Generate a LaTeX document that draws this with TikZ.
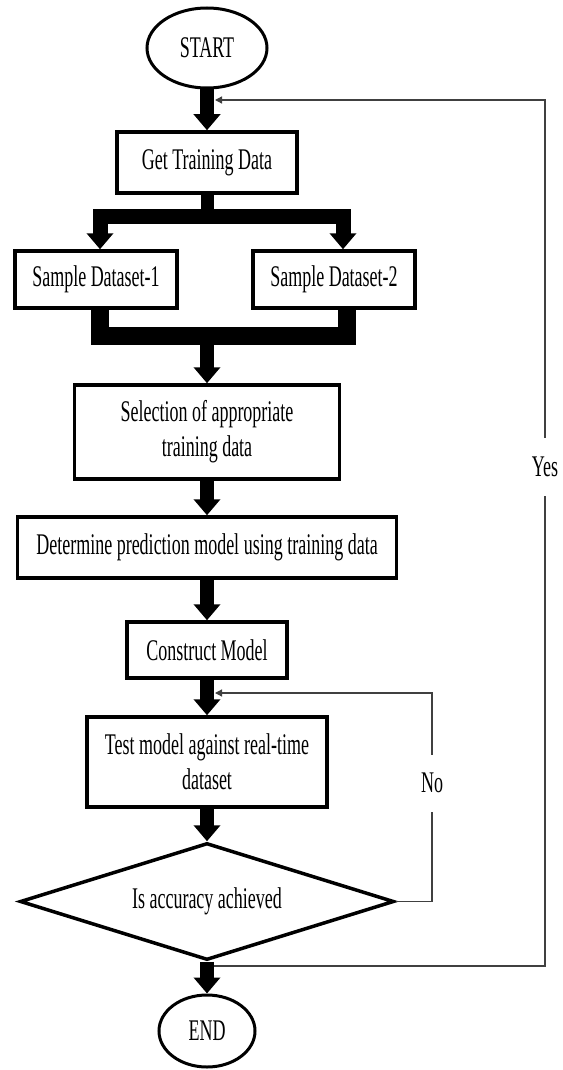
\documentclass[tikz,border=0pt]{standalone}
\usepackage{fontspec}
\setmainfont{Liberation Serif}[FakeStretch=0.6]
\usetikzlibrary{shapes.geometric,arrows.meta}
\tikzset{
  txt/.style={font=\fontsize{30}{35}\selectfont},
  box/.style={txt, draw, rectangle, line width=3.5pt, inner sep=0pt, align=center},
  term/.style={txt, draw, ellipse, line width=3pt, inner sep=0pt},
  decision/.style={txt, draw, diamond, aspect=3.2, line width=3.5pt, inner sep=0pt},
  bigtip/.tip={Triangle[length=16pt,width=26pt]},
  flow/.style={line width=14pt, -bigtip},
  bus/.style={line width=15pt, line join=miter},
  thinflow/.style={line width=1.3pt, black!75, -{Triangle[length=7pt,width=7pt]}},
  lab/.style={txt, fill=white, inner xsep=2pt, inner ysep=0pt}
}
\begin{document}
\begin{tikzpicture}[x=1pt,y=-1pt]
\useasboundingbox (0,0) rectangle (562,1070);

% nodes
\node[term, minimum width=120, minimum height=80] (start) at (207,48) {START};
\node[box, minimum width=180, minimum height=61] (gtd) at (207,162.5) {Get Training Data};
\node[box, minimum width=162, minimum height=57] (sd1) at (96,279.5) {Sample Dataset-1};
\node[box, minimum width=162, minimum height=57] (sd2) at (334,279.5) {Sample Dataset-2};
\node[box, minimum width=265, minimum height=94] (sel) at (207,432) {Selection of appropriate\\training data};
\node[box, minimum width=379, minimum height=61] (det) at (207,547.5) {Determine prediction model using training data};
\node[box, minimum width=160, minimum height=56] (con) at (207,650) {Construct Model};
\node[box, minimum width=240, minimum height=90] (test) at (207,762) {Test model against real-time\\dataset};
\node[decision, minimum width=374, minimum height=117] (dec) at (207,901.5) {Is accuracy achieved};
\node[term, minimum width=96, minimum height=72] (end) at (207,1031) {END};

% helper coordinates
\coordinate (bl) at (100,216.5);
\coordinate (br) at (343,216.5);
\coordinate (ml) at (99.5,336);
\coordinate (mr) at (346.5,336);
\coordinate (ys) at (214,966);
\coordinate (yc) at (545,966);
\coordinate (yin) at (215,100);
\coordinate (nc) at (432,693);
\coordinate (nin) at (215,693);

% thin feedback lines
\draw[thinflow] (ys) -- (yc) -- (yc |- yin) -- (yin);
\draw[thinflow] (dec.east) -| (nc) -- (nin);

% thick connectors
\draw[flow] (start.south) -- (gtd.north);
\draw[line width=13pt] (gtd.south) -- (gtd.south |- bl);
\draw[bus, bigtip-bigtip] (bl |- sd1.north) -- (bl) -- (br) -- (br |- sd2.north);
\draw[line width=18pt, line join=miter] (ml |- sd1.south) -- (ml) -- (mr) -- (mr |- sd2.south);
\draw[flow] (sel.north |- ml) -- (sel.north);
\draw[flow] (sel.south) -- (det.north);
\draw[flow] (det.south) -- (con.north);
\draw[flow] (con.south) -- (test.north);
\draw[flow] (test.south) -- (dec.north);
\draw[flow] (dec.south) -- (end.north);

% labels
\node[lab, minimum height=58] (yes) at (545,467) {Yes};
\node[lab, minimum height=57] (no) at (432,783) {No};
\end{tikzpicture}
\end{document}
